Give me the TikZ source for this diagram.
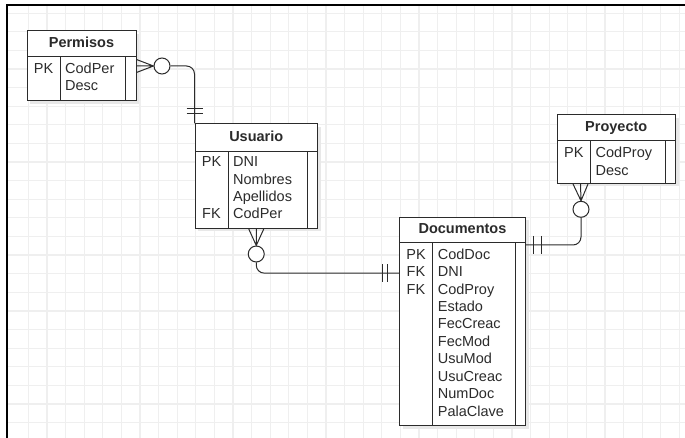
\documentclass[tikz,border=0pt]{standalone}
\usepackage{fontspec}
\setmainfont{Liberation Sans}
\usetikzlibrary{shadows}
\definecolor{gridc}{HTML}{EFEFEF}
\definecolor{linec}{HTML}{2B2B2B}
\tikzset{
  entity/.style={draw=linec,line width=1pt,fill=white,inner sep=0pt,
    drop shadow={shadow xshift=3pt,shadow yshift=-3pt,fill=black!9,opacity=1}},
  eline/.style={draw=linec,line width=1pt},
  etitle/.style={font=\fontsize{14.5}{17}\selectfont\bfseries,text=linec,
    text height=10pt,text depth=3pt,inner sep=0pt},
  key/.style={font=\fontsize{14.5}{17}\selectfont,text=linec,
    text height=10pt,text depth=3pt,inner sep=0pt},
  attr/.style={key,anchor=west},
  rel/.style={draw=linec,line width=1pt},
  ocirc/.style={circle,draw=linec,line width=1pt,fill=white,minimum size=16pt,inner sep=0pt},
}
\begin{document}
\begin{tikzpicture}[x=1pt,y=-1pt]
\useasboundingbox (0,0) rectangle (685,438);
% cuadricula y marco
\foreach \x in {28.3,46.9,...,685} \draw[gridc,line width=1.2pt] (\x,5) -- (\x,438);
\foreach \y in {13.3,31.9,...,438} \draw[gridc,line width=1.2pt] (7,\y) -- (685,\y);
\draw[black,line width=2pt] (7.3,438) -- (7.3,5) -- (685,5);

% Permisos
\node[entity,minimum width=109pt,minimum height=70pt] (permisos) at (81.5,66) {};
\node[etitle] (permisos-t) at (81.5,44) {Permisos};
\draw[eline] (27,57) -- (136,57) (60,57) -- (60,101) (125.5,57) -- (125.5,101);
\node[key] (permisos-pk) at (43.5,70) {PK};
\foreach \i/\campo in {0/CodPer,1/Desc}
  \node[attr] at (65,70+17.4*\i) {\campo};

% Usuario
\node[entity,minimum width=122.5pt,minimum height=104.5pt] (usuario) at (256.25,176.25) {};
\node[etitle] (usuario-t) at (256.25,138) {Usuario};
\draw[eline] (195,151.7) -- (317.5,151.7) (228,151.7) -- (228,228.5) (307,151.7) -- (307,228.5);
\node[key] (usuario-pk) at (211.5,163.3) {PK};
\node[key] (usuario-fk) at (211.5,215.5) {FK};
\foreach \i/\campo in {0/DNI,1/Nombres,2/Apellidos,3/CodPer}
  \node[attr] at (233,163.3+17.4*\i) {\campo};

% Proyecto
\node[entity,minimum width=118.5pt,minimum height=68.5pt] (proyecto) at (616.25,149.25) {};
\node[etitle] (proyecto-t) at (616.25,128) {Proyecto};
\draw[eline] (557,141) -- (675.5,141) (590.5,141) -- (590.5,183.5) (665.5,141) -- (665.5,183.5);
\node[key] (proyecto-pk) at (573.75,154.3) {PK};
\foreach \i/\campo in {0/CodProy,1/Desc}
  \node[attr] at (595.5,154.3+17.4*\i) {\campo};

% Documentos
\node[entity,minimum width=126pt,minimum height=208pt] (documentos) at (462.5,321.5) {};
\node[etitle] (documentos-t) at (462.5,230) {Documentos};
\draw[eline] (399.5,242.7) -- (525.5,242.7) (432.7,242.7) -- (432.7,425.5) (515.5,242.7) -- (515.5,425.5);
\foreach \i/\k in {0/PK,1/FK,2/FK}
  \node[key] (doc-k\i) at (416,255.7+17.44*\i) {\k};
\foreach \i/\campo in {0/CodDoc,1/DNI,2/CodProy,3/Estado,4/FecCreac,5/FecMod,6/UsuMod,7/UsuCreac,8/NumDoc,9/PalaClave}
  \node[attr] at (437.7,255.7+17.44*\i) {\campo};

% Permisos - Usuario
\node[ocirc] (o1) at (162,66) {};
\draw[rel] ([yshift=6.5pt]permisos.east) -- (o1.west) -- ([yshift=-6.5pt]permisos.east)
  (permisos.east) -- (o1.west);
\draw[rel,rounded corners=8pt] (o1.east) -| (usuario.north west);
\foreach \d in {10,15}
  \draw[rel] ([shift={(-8pt,\d pt)}]usuario.north west) -- ([shift={(8pt,\d pt)}]usuario.north west);

% Usuario - Documentos
\node[ocirc] (o2) at (256.25,254) {};
\draw[rel] ([xshift=-7.5pt]usuario.south) -- (o2.north) -- ([xshift=7.5pt]usuario.south)
  (usuario.south) -- (o2.north);
\coordinate (e2) at (documentos.west |- doc-k1);
\draw[rel,rounded corners=8pt] (o2.south) |- (e2);
\foreach \d in {12,16.5}
  \draw[rel] ([shift={(-\d pt,9pt)}]e2) -- ([shift={(-\d pt,-9pt)}]e2);

% Proyecto - Documentos
\coordinate (p3) at ([xshift=24pt]proyecto.south west);
\node[ocirc] (o3) at (581,209.3) {};
\draw[rel] ([xshift=-7.5pt]p3) -- (o3.north) -- ([xshift=7.5pt]p3) (p3) -- (o3.north);
\coordinate (e3) at ([yshift=-28pt]documentos.north east);
\draw[rel,rounded corners=8pt] (o3.south) |- (e3);
\foreach \d in {7,15.5}
  \draw[rel] ([shift={(\d pt,9pt)}]e3) -- ([shift={(\d pt,-9pt)}]e3);
\end{tikzpicture}
\end{document}
